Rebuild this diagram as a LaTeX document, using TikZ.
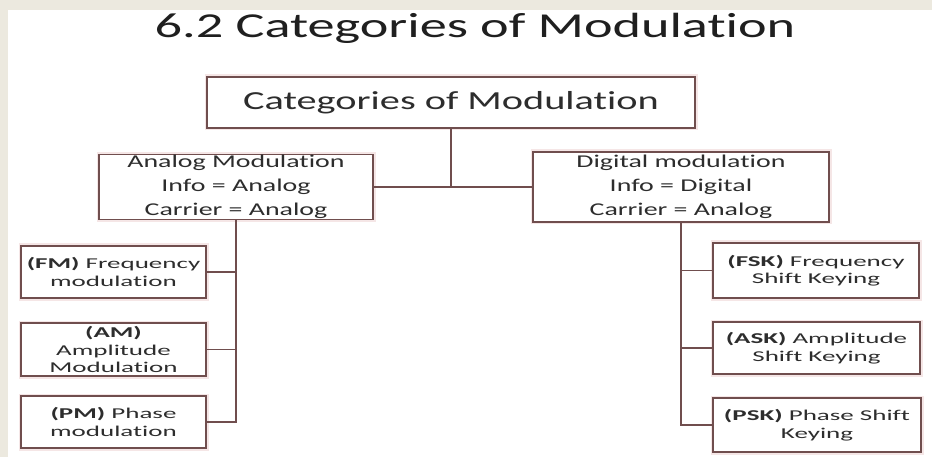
\documentclass[tikz,border=0pt]{standalone}
\usepackage{fontspec}
\setmainfont{Carlito}
\newfontfamily\slidefont[FakeStretch=1.55, Ligatures=NoCommon]{Carlito}
\newfontfamily\leaffont[FakeStretch=1.8, Ligatures=NoCommon]{Carlito}
\usepackage{xcolor}
\usepackage{tikz}
\usetikzlibrary{positioning}
\definecolor{slidebg}{RGB}{236,233,223}
\definecolor{boxline}{RGB}{112,78,78}
\definecolor{boxglow}{RGB}{245,230,230}
\definecolor{txt}{RGB}{45,45,45}

\begin{document}
\begin{tikzpicture}[x=1pt, y=-1pt,
  box/.style={draw=boxline, line width=1.6pt, fill=white, align=center, inner sep=0pt, text=txt,
    preaction={draw=boxglow, line width=5pt}},
  mid/.style={box, font=\slidefont\fontsize{18}{24}\selectfont},
  leaf/.style={box, font=\leaffont\fontsize{15}{17.5}\selectfont},
  trunk/.style={draw=boxline, line width=2.6pt},
  link/.style={draw=boxline, line width=1.6pt}]
\fill[slidebg] (0,0) rectangle (932,457);
\fill[white] (8,10) rectangle (932,457);
\useasboundingbox (0,0) rectangle (932,457);

\node[font=\slidefont\fontsize{35}{40}\selectfont, text=black!88, anchor=base] (title) at (475,38) {6.2 Categories of Modulation};

\node[box, font=\slidefont\fontsize{26}{30}\selectfont, minimum width=488pt, minimum height=51pt] (cat) at (451,102.5) {Categories of Modulation};
\node[mid, minimum width=274pt, minimum height=65pt] (ana) at (236,187) {Analog Modulation\\Info = Analog\\Carrier = Analog};
\node[mid, minimum width=296pt, minimum height=70pt] (dig) at (681,187) {Digital modulation\\Info = Digital\\Carrier = Analog};

% analog side
\node[leaf, minimum width=185pt, minimum height=52pt] (fm) at (113.5,272) {\textbf{(FM)} Frequency\\modulation};
\node[leaf, minimum width=185pt, minimum height=53pt] (am) at (113.5,349.5) {\textbf{(AM)}\\Amplitude\\Modulation};
\node[leaf, minimum width=185pt, minimum height=52pt] (pm) at (113.5,422) {\textbf{(PM)} Phase\\modulation};

% digital side
\node[leaf, minimum width=206pt, minimum height=55pt] (fsk) at (816,270.5) {\textbf{(FSK)} Frequency\\Shift Keying};
\node[leaf, minimum width=207pt, minimum height=52pt] (ask) at (816.5,348) {\textbf{(ASK)} Amplitude\\Shift Keying};
\node[leaf, minimum width=208pt, minimum height=54pt] (psk) at (817,425) {\textbf{(PSK)} Phase Shift\\Keying};

\draw[trunk] (cat.south) -- (cat.south |- ana.east);
\draw[link] (ana.east) -- (dig.west);
\draw[trunk] (ana.south) |- (pm.east);
\draw[link] (fm.east) -- (fm.east -| ana.south);
\draw[link] (am.east) -- (am.east -| ana.south);
\draw[trunk] (dig.south) |- (psk.west);
\draw[link] (fsk.west) -- (fsk.west -| dig.south);
\draw[link] (ask.west) -- (ask.west -| dig.south);
\end{tikzpicture}
\end{document}
